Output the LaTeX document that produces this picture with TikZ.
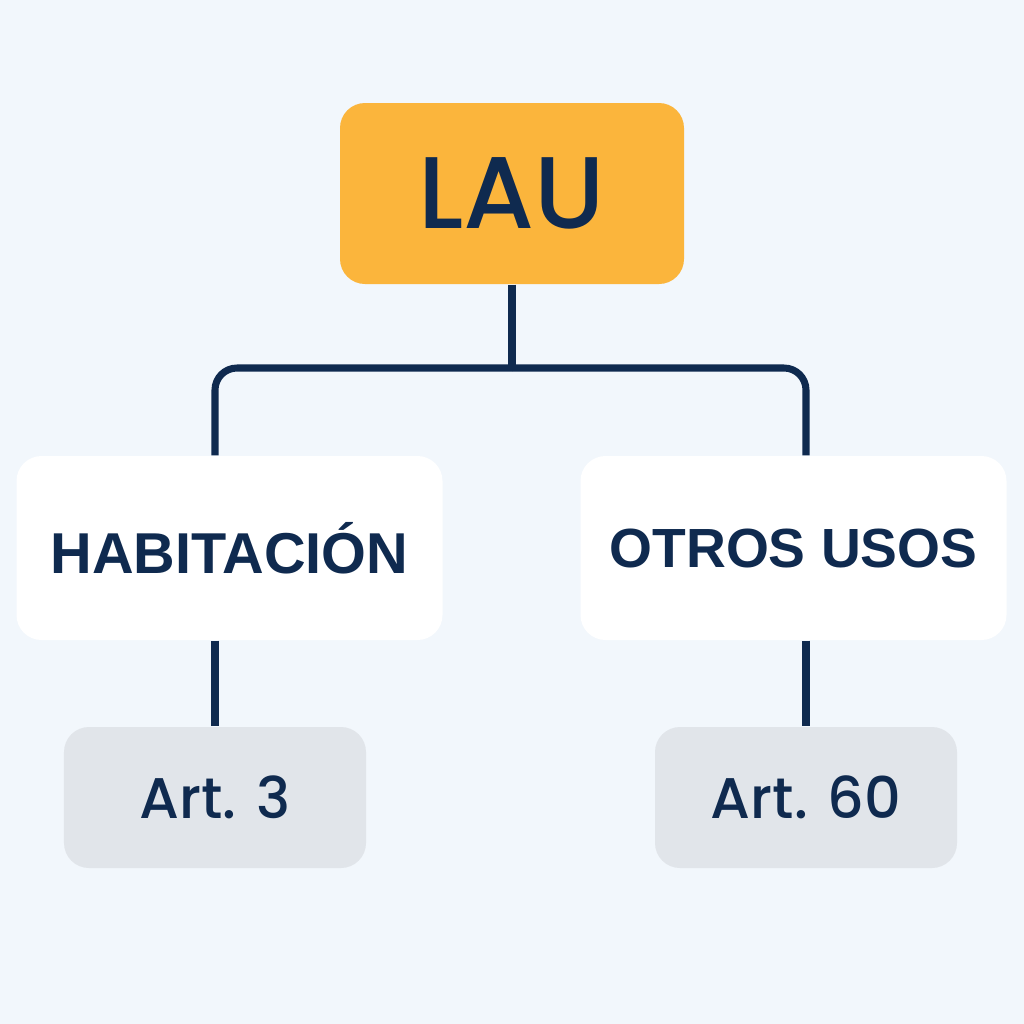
\documentclass[tikz,border=0pt]{standalone}
\usepackage{fontspec}
\setmainfont{Poppins}
\newfontfamily\medfont{Poppins Medium}
\newfontfamily\habfont{Liberation Sans}
\usepackage{tikz}

\definecolor{bgblue}{HTML}{F2F7FC}
\definecolor{navy}{HTML}{0F2A4F}
\definecolor{lauorange}{HTML}{FBB53C}
\definecolor{artgray}{HTML}{E1E5EA}

\begin{document}
\begin{tikzpicture}[
  box/.style={rounded corners=0.25cm,inner sep=0,text=navy},
  top/.style={box,fill=lauorange,minimum width=3.44cm,minimum height=1.81cm,
    font=\medfont\fontsize{29}{31}\selectfont},
  mid/.style={box,fill=white,minimum width=4.26cm,minimum height=1.84cm,
    font=\habfont\bfseries\fontsize{16.4}{18}\selectfont},
  art/.style={box,fill=artgray,minimum width=3.02cm,minimum height=1.41cm,
    font=\medfont\fontsize{16.3}{18}\selectfont},
  link/.style={draw=navy,line width=2pt}]
\fill[bgblue] (0,0) rectangle (10.24,-10.24);
\useasboundingbox (0,0) rectangle (10.24,-10.24);
\node[top] (lau) at (5.12,-1.935) {LAU};
\node[mid] (hab) at (2.295,-5.48) {HABITACIÓN};
\node[mid,font=\habfont\bfseries\fontsize{15.7}{18}\selectfont] (otros) at (7.935,-5.48) {OTROS USOS};
\node[art] (art3) at (2.15,-7.975) {Art. 3};
\node[art] (art60) at (8.06,-7.975) {Art. 60};
\coordinate (j) at (5.12,-3.68);
\draw[link] (lau) -- (j);
\draw[link,rounded corners=0.22cm] (j) -| (art3.north |- hab.north);
\draw[link,rounded corners=0.22cm] (j) -| (art60.north |- otros.north);
\draw[link] (art3.north |- hab.south) -- (art3);
\draw[link] (art60.north |- otros.south) -- (art60);
\end{tikzpicture}
\end{document}
